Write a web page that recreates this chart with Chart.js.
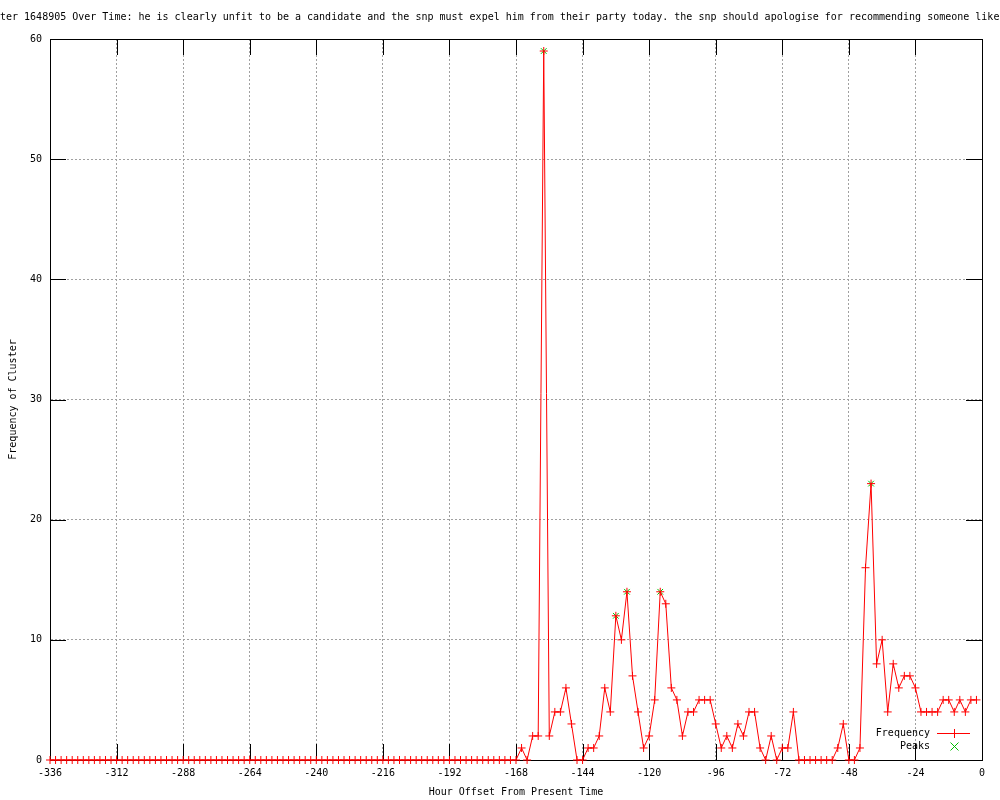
<!DOCTYPE html>
<html>
<head>
<meta charset="utf-8">
<script src="https://cdn.jsdelivr.net/npm/chart.js@4"></script>
<style>
  html, body { margin: 0; padding: 0; background: #ffffff; }
  #wrap { width: 1000px; height: 800px; }
</style>
</head>
<body>
<div id="wrap"><canvas id="freqChart" width="1000" height="800"></canvas></div>
<script>
// hour offsets, one point every 2 hours
const hours = [
  -336, -334, -332, -330, -328, -326, -324, -322, -320, -318, -316, -314,
  -312, -310, -308, -306, -304, -302, -300, -298, -296, -294, -292, -290,
  -288, -286, -284, -282, -280, -278, -276, -274, -272, -270, -268, -266,
  -264, -262, -260, -258, -256, -254, -252, -250, -248, -246, -244, -242,
  -240, -238, -236, -234, -232, -230, -228, -226, -224, -222, -220, -218,
  -216, -214, -212, -210, -208, -206, -204, -202, -200, -198, -196, -194,
  -192, -190, -188, -186, -184, -182, -180, -178, -176, -174, -172, -170,
  -168, -166, -164, -162, -160, -158, -156, -154, -152, -150, -148, -146,
  -144, -142, -140, -138, -136, -134, -132, -130, -128, -126, -124, -122,
  -120, -118, -116, -114, -112, -110, -108, -106, -104, -102, -100, -98,
  -96, -94, -92, -90, -88, -86, -84, -82, -80, -78, -76, -74,
  -72, -70, -68, -66, -64, -62, -60, -58, -56, -54, -52, -50,
  -48, -46, -44, -42, -40, -38, -36, -34, -32, -30, -28, -26,
  -24, -22, -20, -18, -16, -14, -12, -10, -8, -6, -4, -2
];

const frequency = [
  0, 0, 0, 0, 0, 0, 0, 0, 0, 0, 0, 0,
  0, 0, 0, 0, 0, 0, 0, 0, 0, 0, 0, 0,
  0, 0, 0, 0, 0, 0, 0, 0, 0, 0, 0, 0,
  0, 0, 0, 0, 0, 0, 0, 0, 0, 0, 0, 0,
  0, 0, 0, 0, 0, 0, 0, 0, 0, 0, 0, 0,
  0, 0, 0, 0, 0, 0, 0, 0, 0, 0, 0, 0,
  0, 0, 0, 0, 0, 0, 0, 0, 0, 0, 0, 0,
  0, 1, 0, 2, 2, 59, 2, 4, 4, 6, 3, 0,
  0, 1, 1, 2, 6, 4, 12, 10, 14, 7, 4, 1,
  2, 5, 14, 13, 6, 5, 2, 4, 4, 5, 5, 5,
  3, 1, 2, 1, 3, 2, 4, 4, 1, 0, 2, 0,
  1, 1, 4, 0, 0, 0, 0, 0, 0, 0, 1, 3,
  0, 0, 1, 16, 23, 8, 10, 4, 8, 6, 7, 7,
  6, 4, 4, 4, 4, 5, 5, 4, 5, 4, 5, 5
];

const peakHours = [-158, -132, -128, -116, -40];
const peakValues = [59, 12, 14, 14, 23];

const xTicks = [-336, -312, -288, -264, -240, -216, -192, -168, -144, -120, -96, -72, -48, -24, 0];
const yTicks = [0, 10, 20, 30, 40, 50, 60];

const titleText = "ter 1648905 Over Time: he is clearly unfit to be a candidate and the snp must expel him from their party today. the snp should apologise for recommending someone like";

const FONT = "'DejaVu Sans Mono', 'Liberation Mono', monospace";
const RED = "#ff0000";
const GREEN = "#00c000";

// gnuplot style frame: top/right border plus inward ticks on all sides
const framePlugin = {
  id: "frame",
  beforeDatasetsDraw(chart) {
    const ctx = chart.ctx;
    const a = chart.chartArea;
    const xs = chart.scales.x;
    const ys = chart.scales.y;
    const len = 16;
    ctx.save();
    ctx.strokeStyle = "#000000";
    ctx.lineWidth = 1;
    ctx.beginPath();
    xTicks.forEach(v => {
      const px = Math.round(xs.getPixelForValue(v)) + 0.5;
      ctx.moveTo(px, a.bottom);
      ctx.lineTo(px, a.bottom - len);
      ctx.moveTo(px, a.top);
      ctx.lineTo(px, a.top + len);
    });
    yTicks.forEach(v => {
      const py = Math.round(ys.getPixelForValue(v)) + 0.5;
      ctx.moveTo(a.left, py);
      ctx.lineTo(a.left + len, py);
      ctx.moveTo(a.right, py);
      ctx.lineTo(a.right - len, py);
    });
    ctx.stroke();
    ctx.strokeRect(Math.round(a.left) + 0.5, Math.round(a.top) + 0.5,
                   Math.round(a.right - a.left), Math.round(a.bottom - a.top));
    ctx.restore();
  }
};

// key in the lower right corner, text left of the sample
const keyPlugin = {
  id: "gnuKey",
  afterDraw(chart) {
    const ctx = chart.ctx;
    const a = chart.chartArea;
    const textRight = Math.round(a.right - 52);
    const lineLeft = Math.round(a.right - 45);
    const lineRight = Math.round(a.right - 12);
    const mid = Math.round((lineLeft + lineRight) / 2);
    const y1 = Math.round(a.bottom - 27);
    const y2 = Math.round(a.bottom - 14);
    ctx.save();
    ctx.globalAlpha = 1;
    ctx.setLineDash([]);
    ctx.font = "10px " + FONT;
    ctx.fillStyle = "#000000";
    ctx.textAlign = "right";
    ctx.textBaseline = "middle";
    ctx.fillText("Frequency", textRight, y1);
    ctx.fillText("Peaks", textRight, y2);

    // line sample with a point mark
    ctx.fillStyle = RED;
    ctx.fillRect(lineLeft, y1, lineRight - lineLeft, 1);
    ctx.fillRect(mid, y1 - 4, 1, 9);

    ctx.lineWidth = 1;
    ctx.strokeStyle = GREEN;
    ctx.beginPath();
    ctx.moveTo(mid - 3.5, y2 - 3.5);
    ctx.lineTo(mid + 4.5, y2 + 4.5);
    ctx.moveTo(mid + 4.5, y2 - 3.5);
    ctx.lineTo(mid - 3.5, y2 + 4.5);
    ctx.stroke();
    ctx.restore();
  }
};

const freqPoints = hours.map((h, i) => ({ x: h, y: frequency[i] }));
const peakPoints = peakHours.map((h, i) => ({ x: h, y: peakValues[i] }));

new Chart(document.getElementById("freqChart"), {
  type: "line",
  data: {
    datasets: [
      {
        label: "Frequency",
        data: freqPoints,
        borderColor: RED,
        backgroundColor: RED,
        borderWidth: 1,
        tension: 0,
        pointStyle: "cross",
        pointRadius: 4,
        pointBorderWidth: 1,
        pointBorderColor: RED,
        clip: false
      },
      {
        label: "Peaks",
        data: peakPoints,
        showLine: false,
        borderColor: GREEN,
        backgroundColor: GREEN,
        pointStyle: "crossRot",
        pointRadius: 4,
        pointBorderWidth: 1,
        pointBorderColor: GREEN,
        clip: false
      }
    ]
  },
  options: {
    responsive: false,
    animation: false,
    events: [],
    layout: { padding: 0 },
    plugins: {
      legend: { display: false },
      tooltip: { enabled: false },
      title: {
        display: true,
        text: titleText,
        align: "start",
        color: "#000000",
        font: { family: FONT, size: 10, weight: "normal", lineHeight: 1.2 },
        padding: { top: 11, bottom: 16, left: 2 }
      }
    },
    scales: {
      x: {
        type: "linear",
        min: -336,
        max: 0,
        afterBuildTicks(scale) { scale.ticks = xTicks.map(v => ({ value: v })); },
        afterFit(scale) { scale.height = 40; },
        ticks: {
          color: "#000000",
          padding: 7,
          maxRotation: 0,
          autoSkip: false,
          font: { family: FONT, size: 10 }
        },
        grid: {
          color: "#a0a0a0",
          lineWidth: 1,
          drawTicks: false
        },
        border: { display: true, color: "#000000", dash: [2, 2] },
        title: {
          display: true,
          text: "Hour Offset From Present Time",
          color: "#000000",
          font: { family: FONT, size: 10 },
          padding: { top: 0, bottom: 2 }
        }
      },
      y: {
        type: "linear",
        min: 0,
        max: 60,
        afterBuildTicks(scale) { scale.ticks = yTicks.map(v => ({ value: v })); },
        afterFit(scale) { scale.width = 50; },
        ticks: {
          color: "#000000",
          padding: 8,
          font: { family: FONT, size: 10 }
        },
        grid: {
          color: "#a0a0a0",
          lineWidth: 1,
          drawTicks: false
        },
        border: { display: true, color: "#000000", dash: [2, 2] },
        title: {
          display: true,
          text: "Frequency of Cluster",
          color: "#000000",
          font: { family: FONT, size: 10 },
          padding: { top: 7, bottom: 0 }
        }
      },
      yRight: {
        type: "linear",
        position: "right",
        min: 0,
        max: 60,
        display: true,
        afterFit(scale) { scale.width = 18; },
        ticks: { display: false },
        grid: { display: false, drawTicks: false },
        border: { display: false }
      }
    }
  },
  plugins: [framePlugin, keyPlugin]
});
</script>
</body>
</html>
